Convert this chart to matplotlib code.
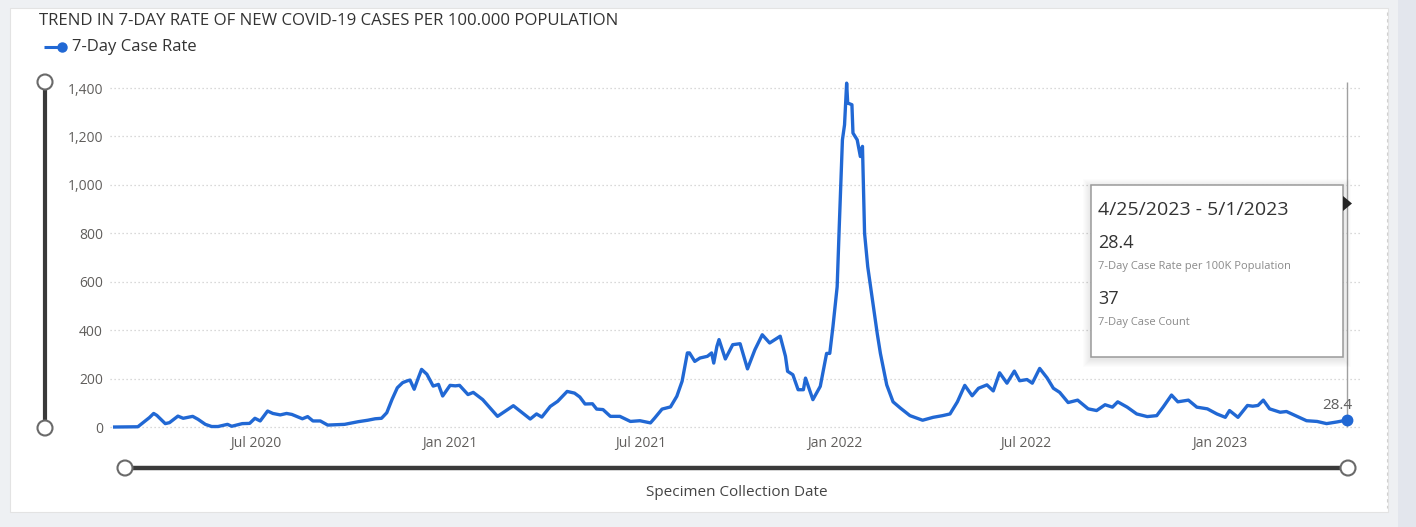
import numpy as np
import matplotlib
matplotlib.use("Agg")
import matplotlib.pyplot as plt
import matplotlib.dates as mdates
from matplotlib.patches import Rectangle, Circle, Polygon

# 7-day case rate per 100K, by specimen collection date
dates = [
    "2020-02-18", "2020-03-11", "2020-03-18", "2020-03-22", "2020-03-26", "2020-03-29",
    "2020-04-06", "2020-04-10", "2020-04-18", "2020-04-23", "2020-05-02", "2020-05-07",
    "2020-05-14", "2020-05-20", "2020-05-26", "2020-06-04", "2020-06-08", "2020-06-18",
    "2020-06-25", "2020-06-30", "2020-07-05", "2020-07-12", "2020-07-17", "2020-07-24",
    "2020-07-30", "2020-08-04", "2020-08-14", "2020-08-19", "2020-08-24", "2020-08-31",
    "2020-09-07", "2020-09-23", "2020-10-06", "2020-10-15", "2020-10-22", "2020-10-28",
    "2020-11-02", "2020-11-07", "2020-11-12", "2020-11-17", "2020-11-21", "2020-11-24",
    "2020-11-28", "2020-12-02", "2020-12-05", "2020-12-10", "2020-12-16", "2020-12-21",
    "2020-12-25", "2021-01-01", "2021-01-06", "2021-01-10", "2021-01-18", "2021-01-23",
    "2021-02-01", "2021-02-15", "2021-03-02", "2021-03-18", "2021-03-24", "2021-03-29",
    "2021-04-06", "2021-04-13", "2021-04-22", "2021-04-29", "2021-05-04", "2021-05-09",
    "2021-05-16", "2021-05-20", "2021-05-26", "2021-06-02", "2021-06-11", "2021-06-21",
    "2021-06-30", "2021-07-10", "2021-07-14", "2021-07-21", "2021-07-29", "2021-08-04",
    "2021-08-09", "2021-08-14", "2021-08-16", "2021-08-21", "2021-08-26", "2021-09-02",
    "2021-09-06", "2021-09-08", "2021-09-11", "2021-09-13", "2021-09-19", "2021-09-26",
    "2021-10-03", "2021-10-10", "2021-10-17", "2021-10-24", "2021-10-31", "2021-11-10",
    "2021-11-15", "2021-11-17", "2021-11-22", "2021-11-27", "2021-12-02", "2021-12-04",
    "2021-12-11", "2021-12-18", "2021-12-24", "2021-12-27", "2021-12-30", "2022-01-03",
    "2022-01-05", "2022-01-08", "2022-01-10", "2022-01-12", "2022-01-13", "2022-01-17",
    "2022-01-18", "2022-01-22", "2022-01-25", "2022-01-27", "2022-01-29", "2022-02-01",
    "2022-02-05", "2022-02-10", "2022-02-13", "2022-02-19", "2022-02-25", "2022-03-04",
    "2022-03-13", "2022-03-25", "2022-04-04", "2022-04-13", "2022-04-20", "2022-04-27",
    "2022-05-04", "2022-05-11", "2022-05-17", "2022-05-25", "2022-05-31", "2022-06-06",
    "2022-06-13", "2022-06-20", "2022-06-25", "2022-07-02", "2022-07-07", "2022-07-14",
    "2022-07-21", "2022-07-27", "2022-08-02", "2022-08-10", "2022-08-19", "2022-08-29",
    "2022-09-06", "2022-09-14", "2022-09-21", "2022-09-26", "2022-10-05", "2022-10-14",
    "2022-10-24", "2022-11-02", "2022-11-08", "2022-11-16", "2022-11-22", "2022-12-02",
    "2022-12-10", "2022-12-20", "2022-12-29", "2023-01-06", "2023-01-10", "2023-01-18",
    "2023-01-27", "2023-02-01", "2023-02-06", "2023-02-11", "2023-02-17", "2023-02-27",
    "2023-03-05", "2023-03-15", "2023-03-24", "2023-04-03", "2023-04-12", "2023-04-22",
    "2023-05-01",
]
rates = [
    0, 1, 25, 39, 56, 48,
    14, 18, 45, 36, 44, 32,
    11, 2, 2, 11, 3, 14,
    15, 36, 25, 66, 56, 50,
    56, 52, 34, 43, 25, 25,
    8, 11, 22, 28, 34, 36,
    59, 114, 162, 183, 190, 194,
    156, 204, 238, 218, 169, 176,
    128, 172, 170, 172, 134, 143,
    113, 44, 88, 33, 54, 41,
    85, 106, 147, 140, 124, 95,
    96, 74, 72, 44, 44, 23,
    26, 17, 37, 74, 83, 127,
    189, 306, 306, 271, 285, 292,
    306, 264, 333, 361, 281, 340,
    344, 240, 319, 381, 347, 375,
    292, 230, 216, 154, 154, 202,
    113, 168, 304, 304, 414, 579,
    828, 1186, 1248, 1420, 1338, 1331,
    1214, 1186, 1117, 1159, 800, 662,
    538, 386, 304, 174, 104, 78,
    47, 28, 40, 47, 54, 104,
    172, 129, 160, 174, 149, 224,
    181, 231, 191, 196, 181, 242,
    203, 160, 143, 101, 111, 75,
    68, 92, 82, 104, 82, 54,
    43, 47, 82, 132, 104, 111,
    82, 75, 54, 40, 68, 40,
    89, 86, 89, 111, 75, 61,
    64, 44, 26, 23, 14, 21,
    28.4,
]
last_week = "4/25/2023 - 5/1/2023"
last_count = 37

tick_dates = ["2020-07-01", "2021-01-01", "2021-07-01", "2022-01-01", "2022-07-01", "2023-01-01"]
tick_labels = ["Jul 2020", "Jan 2021", "Jul 2021", "Jan 2022", "Jul 2022", "Jan 2023"]
y_ticks = [0, 200, 400, 600, 800, 1000, 1200, 1400]

W, H = 1416, 527
BLUE = "#2168d4"
GREY_TXT = "#605e5c"
plt.rcParams["font.family"] = ["Open Sans", "DejaVu Sans"]

fig = plt.figure(figsize=(W / 100, H / 100), dpi=100)
fig.patch.set_facecolor("#eef0f3")

# background layer in pixel coordinates
bg = fig.add_axes([0, 0, 1, 1], zorder=0)
bg.set_xlim(0, W)
bg.set_ylim(H, 0)
bg.axis("off")
bg.add_patch(Rectangle((10, 8), 1378, 504, fc="white", ec="#e3e3e3", lw=0.8))
bg.add_patch(Rectangle((1398, 0), 18, H, fc="#e3e6ed", ec="none"))
bg.plot([1387, 1387], [12, 508], color="#d0d0d0", lw=0.8, ls=(0, (3, 3)))

bg.text(39, 21, "TREND IN 7-DAY RATE OF NEW COVID-19 CASES PER 100.000 POPULATION",
        fontsize=12.1, color="#333333", va="center", ha="left")
bg.plot([44, 61], [47, 47], color=BLUE, lw=2.2, solid_capstyle="butt")
bg.plot([62], [47], "o", color=BLUE, ms=6.5)
bg.text(72, 47, "7-Day Case Rate", fontsize=12, color="#333333",
        va="center", ha="left")

# range sliders
bg.plot([45, 45], [82, 428], color="#3a3a3a", lw=3, solid_capstyle="butt")
bg.plot([125, 1348], [468, 468], color="#3a3a3a", lw=3.2, solid_capstyle="butt")
for cx, cy in [(45, 82), (45, 428), (125, 468), (1348, 468)]:
    bg.add_patch(Circle((cx, cy), 7.5, fc="white", ec="#6a6a6a", lw=1.5, zorder=3))
bg.text(737, 492, "Specimen Collection Date", fontsize=11, color="#444444",
        ha="center", va="center")

# chart area
ax = fig.add_axes([110 / W, (H - 432) / H, 1252 / W, 357 / H], zorder=2)
ax.patch.set_alpha(0)
x = np.array(dates, dtype="datetime64[D]")
x0 = mdates.date2num(np.datetime64("2020-07-01"))
ax.set_xlim(x0 - 138.4, x0 + 1048.6)
ax.set_ylim(-20.6, 1453.7)

for v in y_ticks:
    ax.axhline(v, color="#cdcdcd", lw=0.9, ls=(0, (1, 2.2)), zorder=0)

ax.plot(x, rates, color=BLUE, lw=2.4, solid_joinstyle="round", zorder=3)
ax.vlines(x[-1], 0, 1425, color="#a0a0a0", lw=1.0, zorder=2)
ax.plot(x[-1], rates[-1], "o", color=BLUE, ms=7.5, zorder=4)
ax.annotate(f"{rates[-1]:.1f}", (x[-1], rates[-1]), xytext=(-7, 5),
            textcoords="offset points", ha="center", va="bottom",
            fontsize=11, color="#5e5e5e", zorder=5)

ax.set_yticks(y_ticks)
ax.set_yticklabels([f"{v:,}" for v in y_ticks])
ax.set_xticks(mdates.date2num(np.array(tick_dates, dtype="datetime64[D]")))
ax.set_xticklabels(tick_labels)
ax.tick_params(axis="y", length=0, pad=5, labelsize=10, labelcolor=GREY_TXT)
ax.tick_params(axis="x", length=0, pad=3, labelsize=10, labelcolor=GREY_TXT)
for s in ax.spines.values():
    s.set_visible(False)

# hover tooltip on top
fg = fig.add_axes([0, 0, 1, 1], zorder=5)
fg.set_xlim(0, W)
fg.set_ylim(H, 0)
fg.axis("off")
for k in range(1, 9):
    fg.add_patch(Rectangle((1091 - k, 185 - k + 2), 252 + 2 * k, 172 + 2 * k,
                           fc="#000000", ec="none", alpha=0.012))
fg.add_patch(Rectangle((1091, 185), 252, 172, fc="white", ec="#9a9a9a", lw=1.1))
fg.add_patch(Polygon([[1343, 196], [1352, 203.5], [1343, 211]], closed=True,
                     fc="#252525", ec="none"))
fg.text(1098, 210, last_week, fontsize=14, color="#333333", va="center", ha="left")
fg.text(1098, 243, f"{rates[-1]:.1f}", fontsize=13, color="#333333", va="center", ha="left")
fg.text(1098, 267, "7-Day Case Rate per 100K Population", fontsize=8, color="#8a8a8a",
        va="center", ha="left")
fg.text(1098, 299, f"{last_count}", fontsize=13, color="#333333", va="center", ha="left")
fg.text(1098, 322, "7-Day Case Count", fontsize=8, color="#8a8a8a", va="center", ha="left")

fig.savefig("out.png", dpi=100, facecolor=fig.get_facecolor())
